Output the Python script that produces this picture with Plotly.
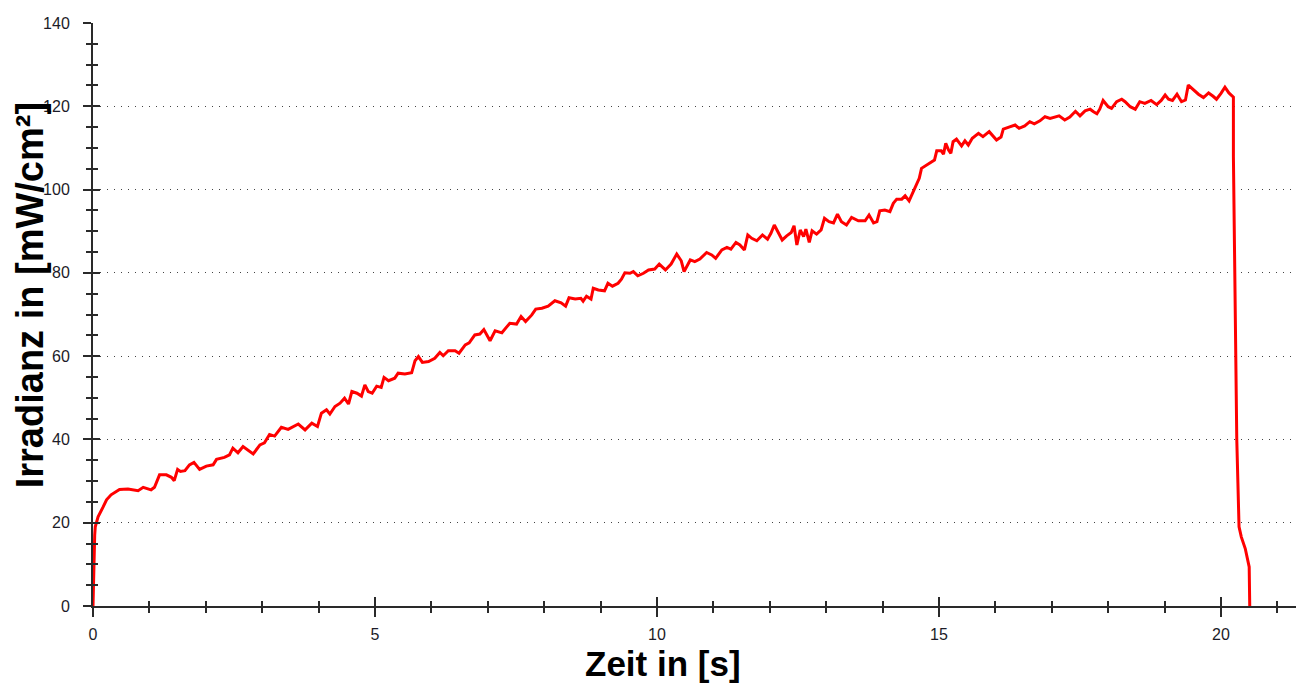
import plotly.graph_objects as go

time_s = [
    0.00, 0.01, 0.02, 0.03, 0.04, 0.09, 0.18, 0.24, 0.32, 0.47, 0.62, 0.80, 0.89, 1.03, 1.09,
    1.18, 1.30, 1.39, 1.44, 1.50, 1.55, 1.63, 1.71, 1.79, 1.89, 2.01, 2.13, 2.19, 2.33, 2.42,
    2.48, 2.57, 2.66, 2.75, 2.84, 2.96, 3.04, 3.13, 3.22, 3.34, 3.46, 3.64, 3.76, 3.88, 3.98,
    4.05, 4.14, 4.20, 4.29, 4.38, 4.46, 4.53, 4.59, 4.68, 4.76, 4.82, 4.88, 4.95, 5.03, 5.11,
    5.16, 5.24, 5.35, 5.41, 5.53, 5.65, 5.71, 5.77, 5.84, 5.95, 6.06, 6.15, 6.21, 6.30, 6.42,
    6.49, 6.60, 6.67, 6.77, 6.86, 6.93, 7.04, 7.13, 7.25, 7.39, 7.51, 7.59, 7.67, 7.78, 7.85,
    7.96, 8.07, 8.19, 8.30, 8.38, 8.44, 8.55, 8.65, 8.69, 8.75, 8.83, 8.87, 8.96, 9.07, 9.13,
    9.21, 9.31, 9.37, 9.43, 9.52, 9.58, 9.66, 9.76, 9.85, 9.96, 10.04, 10.09, 10.15, 10.25, 10.35,
    10.43, 10.48, 10.59, 10.67, 10.76, 10.88, 10.97, 11.04, 11.15, 11.24, 11.31, 11.40, 11.47, 11.55, 11.61,
    11.68, 11.77, 11.87, 11.96, 12.02, 12.08, 12.15, 12.22, 12.30, 12.38, 12.43, 12.48, 12.54, 12.60, 12.64,
    12.70, 12.75, 12.83, 12.91, 12.97, 13.05, 13.13, 13.20, 13.27, 13.36, 13.45, 13.57, 13.69, 13.76, 13.84,
    13.90, 13.95, 14.04, 14.13, 14.19, 14.25, 14.34, 14.40, 14.47, 14.53, 14.59, 14.65, 14.69, 14.76, 14.84,
    14.92, 14.96, 15.04, 15.08, 15.12, 15.17, 15.21, 15.25, 15.31, 15.40, 15.46, 15.52, 15.59, 15.70, 15.78,
    15.89, 15.96, 16.02, 16.10, 16.14, 16.24, 16.35, 16.42, 16.52, 16.61, 16.69, 16.79, 16.88, 16.97, 17.07,
    17.13, 17.23, 17.32, 17.42, 17.50, 17.59, 17.68, 17.74, 17.80, 17.85, 17.91, 18.00, 18.06, 18.15, 18.24,
    18.30, 18.39, 18.48, 18.56, 18.65, 18.76, 18.86, 18.94, 19.01, 19.07, 19.14, 19.22, 19.30, 19.37, 19.42,
    19.51, 19.60, 19.69, 19.78, 19.86, 19.92, 20.00, 20.07, 20.14, 20.22, 20.22, 20.24, 20.26, 20.28, 20.30,
    20.32, 20.36, 20.43, 20.50, 20.51,
]

irradiance = [
    0.0, 8.0, 14.0, 17.0, 19.0, 21.4, 23.8, 25.5, 26.7, 28.0, 28.1, 27.7, 28.5, 27.9, 28.5,
    31.5, 31.5, 30.9, 30.1, 32.8, 32.3, 32.5, 33.9, 34.5, 32.8, 33.6, 33.9, 35.2, 35.7, 36.3,
    37.9, 36.8, 38.3, 37.5, 36.5, 38.7, 39.2, 41.2, 40.8, 42.9, 42.4, 43.7, 42.3, 43.9, 43.1,
    46.3, 47.1, 46.1, 47.9, 48.7, 49.9, 48.5, 51.5, 51.1, 50.4, 53.1, 51.5, 51.1, 52.8, 52.5,
    54.9, 54.1, 54.7, 55.9, 55.7, 56.0, 58.9, 59.9, 58.5, 58.7, 59.5, 60.9, 60.1, 61.3, 61.3,
    60.7, 62.7, 63.2, 65.1, 65.3, 66.4, 63.7, 66.1, 65.6, 67.9, 67.7, 69.5, 68.3, 69.9, 71.3,
    71.5, 72.0, 73.3, 72.8, 72.0, 74.0, 73.7, 73.9, 73.2, 74.4, 73.7, 76.3, 75.9, 75.7, 77.5,
    76.8, 77.5, 78.5, 80.0, 79.9, 80.3, 79.3, 79.9, 80.7, 80.9, 82.1, 81.5, 80.7, 82.1, 84.5,
    82.9, 80.3, 83.1, 82.7, 83.3, 84.9, 84.3, 83.5, 85.5, 86.1, 85.7, 87.3, 86.7, 85.5, 89.1,
    88.3, 87.7, 89.1, 88.1, 89.5, 91.5, 89.5, 87.9, 88.9, 89.7, 91.3, 86.7, 90.3, 88.7, 90.5,
    87.3, 90.1, 89.3, 90.3, 93.1, 92.3, 92.0, 94.1, 92.3, 91.5, 93.3, 92.5, 92.5, 93.9, 92.0,
    92.3, 94.9, 95.1, 94.7, 96.7, 97.7, 97.7, 98.5, 97.3, 99.1, 101.1, 102.7, 105.1, 105.7, 106.5,
    107.1, 109.3, 109.3, 108.5, 111.1, 109.5, 108.7, 111.5, 112.1, 110.5, 111.7, 110.7, 112.3, 113.5, 112.7,
    113.9, 112.7, 111.9, 112.6, 114.5, 115.0, 115.5, 114.7, 115.3, 116.3, 115.8, 116.5, 117.5, 117.1, 117.4,
    117.7, 116.7, 117.4, 118.8, 117.7, 118.9, 119.3, 118.7, 118.2, 119.3, 121.4, 119.9, 119.5, 121.1, 121.7,
    121.1, 119.9, 119.3, 121.1, 120.7, 121.4, 120.4, 121.4, 122.7, 121.7, 121.4, 122.9, 121.1, 121.5, 125.1,
    123.9, 122.9, 122.1, 123.2, 122.4, 121.7, 123.1, 124.6, 123.2, 122.2, 108.0, 80.0, 58.0, 40.0, 29.5,
    19.0, 16.6, 13.8, 9.4, 0.0,
]

x_range = [0, 21.33]
y_range = [0, 140]
x_title = "Zeit in [s]"
y_title = "Irradianz in [mW/cm²]"

FONT = "Liberation Sans, Arial, sans-serif"
AXC = "#2a2a2a"

fig = go.Figure()
fig.add_trace(go.Scatter(
    x=time_s, y=irradiance, mode="lines",
    line=dict(color="#ff0000", width=3),
    showlegend=False, hoverinfo="x+y",
))
# invisible copy to activate overlay axes (for crossing tick marks)
fig.add_trace(go.Scatter(
    x=time_s, y=irradiance, mode="lines", xaxis="x2", yaxis="y2",
    line=dict(color="rgba(0,0,0,0)", width=0), showlegend=False, hoverinfo="skip",
))

common_x = dict(range=x_range, dtick=5, tick0=0, zeroline=False, showgrid=False, fixedrange=True)
common_y = dict(range=y_range, dtick=20, tick0=0, zeroline=False, fixedrange=True)

fig.update_layout(
    width=1296, height=684,
    margin=dict(l=93, r=0, t=23, b=78),
    paper_bgcolor="white", plot_bgcolor="white",
    font=dict(family=FONT, color="#1c1c28"),
    xaxis=dict(
        **common_x,
        showline=True, linecolor=AXC, linewidth=2,
        ticks="outside", ticklen=9, tickwidth=2, tickcolor=AXC,
        minor=dict(dtick=1, ticks="outside", ticklen=5, tickwidth=1.5, tickcolor=AXC),
        tickfont=dict(size=16, family=FONT, color="#1c1c28"),
        ticklabelstandoff=4,
    ),
    yaxis=dict(
        **common_y,
        showline=True, linecolor=AXC, linewidth=2,
        ticks="outside", ticklen=8, tickwidth=2, tickcolor=AXC,
        minor=dict(dtick=5, ticks="outside", ticklen=5, tickwidth=1.5, tickcolor=AXC),
        showgrid=True, gridcolor="#444444", gridwidth=1, griddash="1px,6px",
        tickfont=dict(size=16, family=FONT, color="#1c1c28"),
        ticklabelstandoff=10,
    ),
    xaxis2=dict(
        **common_x, overlaying="x", anchor="y2", side="bottom",
        showline=False, showticklabels=False,
        ticks="inside", ticklen=9, tickwidth=2, tickcolor=AXC,
        minor=dict(dtick=1, ticks="inside", ticklen=5, tickwidth=1.5, tickcolor=AXC),
    ),
    yaxis2=dict(
        **common_y, overlaying="y", anchor="x2", side="left", showgrid=False,
        showline=False, showticklabels=False,
        ticks="inside", ticklen=7, tickwidth=2, tickcolor=AXC,
        minor=dict(dtick=5, ticks="inside", ticklen=5, tickwidth=1.5, tickcolor=AXC),
    ),
    xaxis3=dict(
        **common_x, overlaying="x", anchor="y", side="top",
        showline=True, linecolor=AXC, linewidth=2, ticks="", showticklabels=False,
    ),
    annotations=[
        dict(text=f"<b>{x_title}</b>", xref="paper", yref="paper", x=0.474, y=0,
             yshift=-57, xanchor="center", yanchor="middle", showarrow=False,
             font=dict(size=35, family=FONT, color="#000000")),
        dict(text=f"<b>{y_title}</b>", xref="paper", yref="paper", x=0, y=0.533,
             xshift=-63, xanchor="center", yanchor="middle", textangle=-90, showarrow=False,
             font=dict(size=38, family=FONT, color="#000000")),
    ],
)

fig.write_html("out.html")
